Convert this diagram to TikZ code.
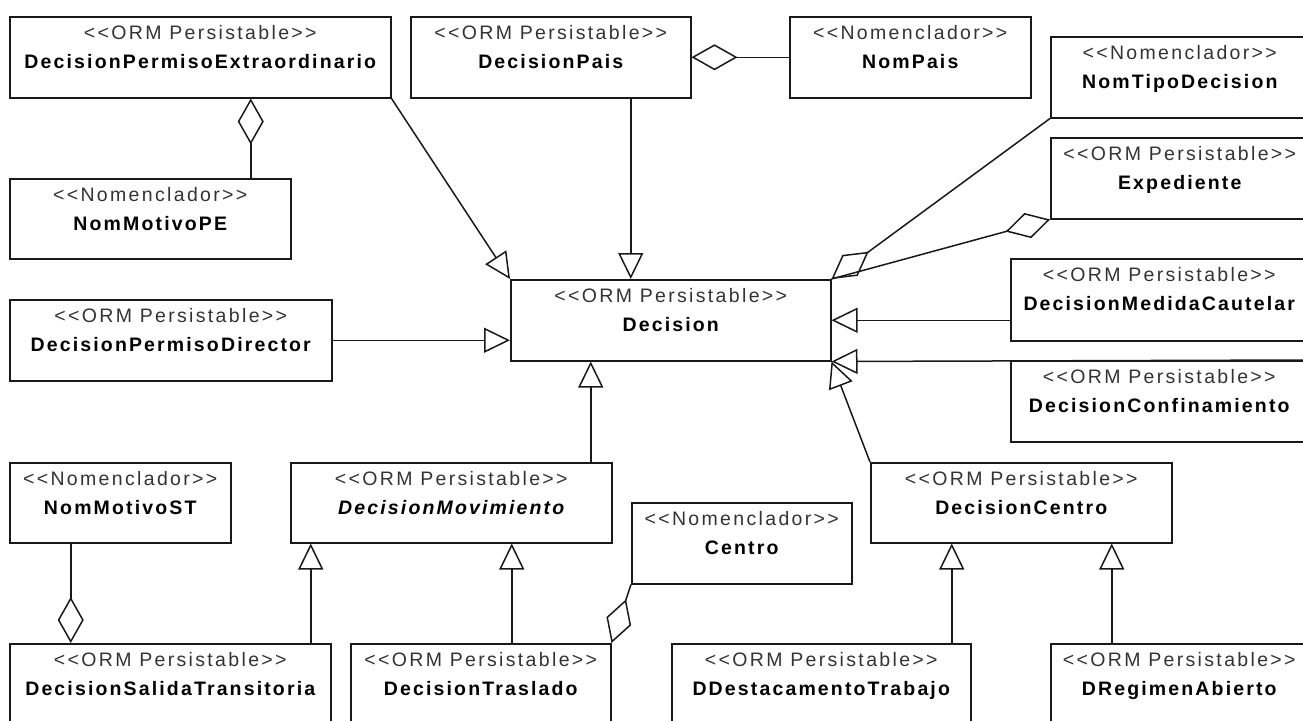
\documentclass[tikz,border=0pt]{standalone}
\usepackage{fontspec}
\setmainfont{Liberation Sans}
\newfontfamily\stfont{Liberation Sans}[LetterSpace=12]
\newfontfamily\nmfont{Liberation Sans}[LetterSpace=11]
\usetikzlibrary{arrows.meta,calc}

\tikzset{
  cls/.style={draw=black!90, line width=1.5pt, fill=white, rectangle, inner sep=0pt, anchor=north west},
  stereo/.style={font=\stfont\fontsize{19.5}{22}\selectfont, text=black!80, inner sep=0pt, anchor=base},
  cname/.style={font=\nmfont\bfseries\fontsize{19.5}{22}\selectfont, text=black, inner sep=0pt, anchor=base},
  conn/.style={draw=black!90, line width=1.5pt},
  gen/.style={conn, -{Triangle[open, length=26pt, width=25pt]}},
  agg/.style={conn, {Diamond[open, length=46pt, width=26pt]}-},
}

\newcommand\umlclass[7]{%
  \node[cls, minimum width={(#4-#2)*1pt}, minimum height={(#5-#3)*1pt}] (#1) at (#2,#3) {};
  \node[stereo] (#1-st) at ([yshift=-23pt]#1.north) {\textless\textless#6\textgreater\textgreater};
  \node[cname] (#1-nm) at ([yshift=-52pt]#1.north) {#7};
}

\begin{document}
\begin{tikzpicture}[x=1pt, y=-1pt]
  \useasboundingbox (0,0) rectangle (1303,720);
  \clip (0,0) rectangle (1303,720);
  \fill[white] (0,0) rectangle (1303,720);

  \umlclass{DPE}{9}{16}{390}{97}{ORM Persistable}{DecisionPermisoExtraordinario}
  \umlclass{DPais}{410}{16}{690}{97}{ORM Persistable}{DecisionPais}
  \umlclass{NomPais}{789}{16}{1030}{97}{Nomenclador}{NomPais}
  \umlclass{NomTipo}{1050}{36}{1308}{117}{Nomenclador}{NomTipoDecision}
  \umlclass{Exp}{1050}{137}{1308}{218}{ORM Persistable}{Expediente}
  \umlclass{NomPE}{9}{178}{290}{258}{Nomenclador}{NomMotivoPE}
  \umlclass{Dec}{510}{279}{830}{360}{ORM Persistable}{Decision}
  \umlclass{DMC}{1010}{258}{1307}{340}{ORM Persistable}{DecisionMedidaCautelar}
  \umlclass{DPD}{9}{299}{331}{380}{ORM Persistable}{DecisionPermisoDirector}
  \umlclass{DConf}{1010}{360}{1307}{441}{ORM Persistable}{DecisionConfinamiento}
  \umlclass{NomST}{9}{462}{230}{542}{Nomenclador}{NomMotivoST}
  \umlclass{DMov}{290}{462}{611}{542}{ORM Persistable}{\itshape DecisionMovimiento}
  \umlclass{DCen}{870}{462}{1171}{542}{ORM Persistable}{DecisionCentro}
  \umlclass{Centro}{631}{502}{851}{583}{Nomenclador}{Centro}
  \umlclass{DST}{9}{643}{330}{724}{ORM Persistable}{DecisionSalidaTransitoria}
  \umlclass{DTr}{350}{643}{610}{724}{ORM Persistable}{DecisionTraslado}
  \umlclass{DDT}{671}{643}{970}{724}{ORM Persistable}{DDestacamentoTrabajo}
  \umlclass{DRA}{1050}{643}{1307}{724}{ORM Persistable}{DRegimenAbierto}

  % generalizations to Decision
  \draw[gen] (DPE.south east) -- (Dec.north west);
  \draw[gen] ([xshift=80pt]DPais.south) -- ([xshift=-40pt]Dec.north);
  \draw[gen] (DMC.west |- Dec.east) -- (Dec.east);
  \draw[gen] (DConf.north east) -- (Dec.south east);
  \draw[gen] (DPD.east) -- (DPD.east -| Dec.west);
  \draw[gen] ([xshift=139.5pt]DMov.north) -- ([xshift=-80pt]Dec.south);
  \draw[gen] (DCen.north west) -- (Dec.south east);

  % aggregations
  \draw[agg] (DPais.east) -- (NomPais.west);
  \draw[agg] ([xshift=50.5pt]DPE.south) -- ([xshift=100.5pt]NomPE.north);
  \draw[agg] (Dec.north east) -- (NomTipo.south west);
  \draw[agg] (Exp.south west) -- (Dec.north east);
  \draw[agg] ([xshift=-99.5pt]DST.north) -- ([xshift=-49.5pt]NomST.south);
  \draw[agg] (DTr.north east) -- (Centro.south west);

  % generalizations to DecisionMovimiento and DecisionCentro
  \draw[gen] ([xshift=140.5pt]DST.north) -- ([xshift=-140.5pt]DMov.south);
  \draw[gen] ([xshift=31pt]DTr.north) -- ([xshift=60.5pt]DMov.south);
  \draw[gen] ([xshift=130.5pt]DDT.north) -- ([xshift=-69.5pt]DCen.south);
  \draw[gen] ([xshift=-67.5pt]DRA.north) -- ([xshift=90.5pt]DCen.south);
\end{tikzpicture}
\end{document}
